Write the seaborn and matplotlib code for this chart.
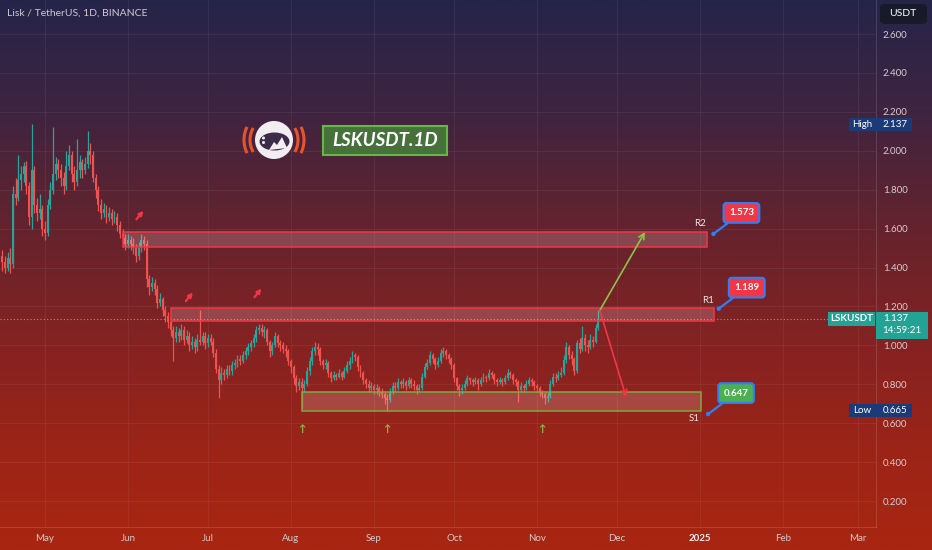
import matplotlib
matplotlib.use("Agg")
import matplotlib.pyplot as plt
import numpy as np
import pandas as pd
import seaborn as sns
from matplotlib.colors import LinearSegmentedColormap
from matplotlib.patches import Rectangle, FancyBboxPatch, Circle, Arc, Polygon, Ellipse
from matplotlib.transforms import blended_transform_factory

# ---- data (LSK/USDT daily) ----
start_date = "2024-04-15"
first_open = 1.46
closes = [
    1.43, 1.40, 1.45, 1.42, 1.78, 1.76, 1.85, 1.88, 1.92, 1.82,
    1.66, 1.90, 1.72, 1.68, 1.70, 1.60, 1.58, 1.72, 1.80, 1.88,
    1.93, 1.90, 1.86, 1.82, 1.92, 1.98, 1.88, 1.84, 1.90, 1.94,
    1.90, 1.93, 2.00, 1.98, 1.86, 1.80, 1.72, 1.68, 1.70, 1.66,
    1.68, 1.65, 1.66, 1.62, 1.57, 1.55, 1.52, 1.54, 1.52, 1.50,
    1.46, 1.50, 1.54, 1.52, 1.34, 1.30, 1.32, 1.29, 1.22, 1.24,
    1.18, 1.15, 1.12, 1.08, 1.04, 1.07, 1.05, 1.08, 1.03, 1.05,
    1.00, 1.02, 0.99, 1.03, 1.02, 1.05, 1.01, 1.04, 1.02, 0.96,
    0.88, 0.82, 0.86, 0.85, 0.88, 0.87, 0.90, 0.91, 0.93, 0.92,
    0.95, 0.97, 0.99, 1.01, 1.04, 1.08, 1.09, 1.07, 1.08, 1.02,
    0.97, 1.00, 1.05, 1.01, 1.00, 0.98, 0.97, 0.92, 0.89, 0.83,
    0.79, 0.81, 0.78, 0.80, 0.87, 0.92, 0.97, 0.99, 0.98, 0.92,
    0.90, 0.91, 0.86, 0.83, 0.85, 0.84, 0.86, 0.84, 0.87, 0.90,
    0.92, 0.95, 0.94, 0.89, 0.86, 0.82, 0.80, 0.78, 0.79, 0.77,
    0.78, 0.76, 0.75, 0.73, 0.72, 0.76, 0.79, 0.78, 0.81, 0.80,
    0.81, 0.79, 0.82, 0.80, 0.79, 0.77, 0.78, 0.84, 0.89, 0.91,
    0.95, 0.93, 0.90, 0.92, 0.96, 0.97, 0.95, 0.93, 0.90, 0.83,
    0.79, 0.77, 0.78, 0.80, 0.83, 0.82, 0.81, 0.82, 0.80, 0.82,
    0.84, 0.83, 0.86, 0.85, 0.82, 0.81, 0.82, 0.81, 0.83, 0.86,
    0.85, 0.82, 0.81, 0.77, 0.79, 0.78, 0.80, 0.82, 0.81, 0.79,
    0.78, 0.755, 0.75, 0.73, 0.74, 0.80, 0.84, 0.83, 0.85, 0.86,
    0.925, 0.99, 0.95, 0.93, 0.87, 1.01, 0.98, 1.04, 1.00, 0.99,
    1.03, 1.02, 1.09, 1.137,
]
highs = [
    1.49, 1.46, 1.48, 1.50, 1.82, 1.86, 1.98, 1.92, 1.94, 1.95,
    1.84, 2.137, 1.92, 1.76, 1.78, 1.72, 1.64, 1.75, 1.84, 2.12,
    1.97, 1.96, 1.93, 1.89, 2.00, 2.03, 2.00, 1.92, 2.06, 1.98,
    1.96, 1.97, 2.10, 2.04, 2.00, 1.88, 1.82, 1.75, 1.73, 1.72,
    1.71, 1.70, 1.69, 1.68, 1.64, 1.60, 1.57, 1.57, 1.56, 1.55,
    1.52, 1.53, 1.57, 1.56, 1.54, 1.36, 1.35, 1.34, 1.31, 1.27,
    1.25, 1.20, 1.17, 1.14, 1.10, 1.10, 1.09, 1.11, 1.10, 1.08,
    1.07, 1.05, 1.04, 1.06, 1.18, 1.07, 1.07, 1.06, 1.06, 1.04,
    0.98, 0.90, 0.89, 0.88, 0.90, 0.90, 0.92, 0.93, 0.95, 0.95,
    0.97, 0.99, 1.01, 1.03, 1.06, 1.10, 1.11, 1.11, 1.10, 1.09,
    1.03, 1.02, 1.07, 1.06, 1.03, 1.02, 1.00, 0.98, 0.93, 0.90,
    0.85, 0.83, 0.83, 0.82, 0.89, 0.94, 0.99, 1.02, 1.01, 0.99,
    0.93, 0.93, 0.92, 0.87, 0.87, 0.86, 0.88, 0.87, 0.89, 0.92,
    0.94, 0.97, 0.96, 0.95, 0.90, 0.87, 0.83, 0.82, 0.81, 0.80,
    0.80, 0.79, 0.78, 0.76, 0.75, 0.78, 0.81, 0.81, 0.83, 0.82,
    0.83, 0.82, 0.84, 0.83, 0.82, 0.80, 0.80, 0.86, 0.91, 0.93,
    0.97, 0.96, 0.94, 0.94, 0.98, 0.99, 0.98, 0.96, 0.94, 0.91,
    0.84, 0.80, 0.80, 0.82, 0.85, 0.84, 0.83, 0.84, 0.83, 0.84,
    0.86, 0.85, 0.88, 0.87, 0.86, 0.83, 0.84, 0.83, 0.85, 0.88,
    0.87, 0.86, 0.83, 0.82, 0.81, 0.80, 0.82, 0.84, 0.83, 0.82,
    0.80, 0.79, 0.77, 0.76, 0.76, 0.82, 0.86, 0.86, 0.87, 0.89,
    0.95, 1.02, 1.00, 0.97, 0.94, 1.03, 1.04, 1.10, 1.06, 1.03,
    1.06, 1.05, 1.11, 1.18,
]
lows = [
    1.38, 1.37, 1.38, 1.37, 1.40, 1.72, 1.74, 1.80, 1.84, 1.78,
    1.62, 1.60, 1.68, 1.64, 1.65, 1.56, 1.54, 1.56, 1.70, 1.78,
    1.85, 1.86, 1.82, 1.78, 1.80, 1.90, 1.84, 1.80, 1.82, 1.86,
    1.86, 1.88, 1.91, 1.93, 1.84, 1.76, 1.69, 1.65, 1.66, 1.63,
    1.64, 1.62, 1.63, 1.59, 1.55, 1.52, 1.49, 1.50, 1.49, 1.47,
    1.43, 1.44, 1.48, 1.49, 1.30, 1.26, 1.28, 1.26, 1.19, 1.20,
    1.15, 1.12, 1.09, 1.05, 0.92, 1.02, 1.02, 1.03, 1.00, 1.01,
    0.97, 0.98, 0.96, 0.97, 1.00, 1.00, 0.98, 0.99, 1.00, 0.94,
    0.86, 0.73, 0.80, 0.82, 0.83, 0.85, 0.85, 0.88, 0.89, 0.90,
    0.91, 0.93, 0.95, 0.97, 0.99, 1.02, 1.06, 1.05, 1.04, 1.00,
    0.94, 0.95, 0.99, 0.99, 0.97, 0.96, 0.94, 0.90, 0.86, 0.80,
    0.76, 0.77, 0.68, 0.76, 0.79, 0.85, 0.90, 0.95, 0.95, 0.90,
    0.88, 0.88, 0.84, 0.81, 0.82, 0.82, 0.83, 0.82, 0.83, 0.86,
    0.88, 0.91, 0.92, 0.87, 0.84, 0.80, 0.78, 0.76, 0.76, 0.75,
    0.75, 0.74, 0.73, 0.70, 0.665, 0.71, 0.75, 0.76, 0.77, 0.78,
    0.78, 0.77, 0.78, 0.78, 0.77, 0.75, 0.76, 0.77, 0.83, 0.88,
    0.90, 0.91, 0.88, 0.89, 0.91, 0.94, 0.93, 0.91, 0.88, 0.81,
    0.77, 0.74, 0.75, 0.77, 0.79, 0.80, 0.79, 0.80, 0.77, 0.79,
    0.81, 0.81, 0.82, 0.83, 0.80, 0.79, 0.80, 0.79, 0.80, 0.82,
    0.83, 0.80, 0.79, 0.71, 0.76, 0.76, 0.77, 0.79, 0.79, 0.77,
    0.76, 0.74, 0.73, 0.70, 0.71, 0.73, 0.79, 0.81, 0.82, 0.84,
    0.85, 0.91, 0.93, 0.90, 0.85, 0.86, 0.96, 0.97, 0.97, 0.96,
    0.98, 0.99, 1.01, 1.08,
]

price_ticks = [0.2, 0.4, 0.6, 0.8, 1.0, 1.2, 1.4, 1.6, 1.8, 2.0, 2.2, 2.4, 2.6]
month_starts = ["2024-05-01", "2024-06-01", "2024-07-01", "2024-08-01", "2024-09-01",
                "2024-10-01", "2024-11-01", "2024-12-01", "2025-01-01", "2025-02-01",
                "2025-03-01"]
month_labels = ["May", "Jun", "Jul", "Aug", "Sep", "Oct", "Nov", "Dec", "2025", "Feb", "Mar"]

zone_names = ["R2", "R1", "S1"]
zone_low = [1.506, 1.125, 0.663]
zone_high = [1.583, 1.190, 0.758]
zone_start = ["2024-05-30", "2024-06-17", "2024-08-05"]
zone_end = ["2025-01-03 14:00", "2025-01-06 05:00", "2025-01-01 07:00"]
target_values = [1.573, 1.189, 0.647]
target_dates = ["2025-01-06", "2025-01-08", "2025-01-04"]

reversal_dates = ["2024-06-05 12:00", "2024-06-24", "2024-07-19 16:00"]
reversal_prices = [1.67, 1.25, 1.27]
bounce_dates = ["2024-08-05", "2024-09-06", "2024-11-03"]
bounce_price = 0.57

last_price = 1.137
high_price = 2.137
low_price = 0.665
countdown = "14:59:21"
move_start = ("2024-11-24 12:00", 1.18)
up_target = ("2024-12-11 10:00", 1.583)
down_target = ("2024-12-04 08:00", 0.735)

# ---- frame ----
W, H = 932, 550
Y0, Y1 = 0.0668, 2.775
base = pd.Timestamp(start_date)


def day(s):
    return (pd.Timestamp(s) - base) / pd.Timedelta(days=1)


df = pd.DataFrame({
    "x": np.arange(len(closes)),
    "close": closes,
    "high": highs,
    "low": lows,
})
df["open"] = [first_open] + closes[:-1]
df["up"] = df["close"] >= df["open"]

sns.set_theme(style="dark")
plt.rcParams["font.family"] = ["Lato", "DejaVu Sans"]

fig = plt.figure(figsize=(W / 100, H / 100), dpi=100)

# gradient background (navy -> deep red)
bg = fig.add_axes([0, 0, 1, 1], zorder=-10)
cmap = LinearSegmentedColormap.from_list(
    "tv", [(0.0, "#252549"), (0.2, "#3e2440"), (0.4, "#62232f"),
           (0.6, "#812224"), (0.8, "#9a2418"), (1.0, "#a92611")])
bg.imshow(np.linspace(0, 1, 256).reshape(-1, 1), aspect="auto", cmap=cmap,
          extent=[0, 1, 0, 1])
bg.axis("off")

ax = fig.add_axes([0, 23 / H, 876 / W, 527 / H])
ax.set_facecolor("none")
ax.set_xlim(-0.82, 326.8)
ax.set_ylim(Y0, Y1)
PPU = 527 / (Y1 - Y0)

# grid
for p in price_ticks:
    ax.axhline(p, color="white", alpha=0.06, lw=0.8, zorder=0)
month_x = [day(m) for m in month_starts]
for mx in month_x:
    ax.axvline(mx, color="white", alpha=0.06, lw=0.8, zorder=0)

# candles
col = np.where(df["up"], "#26a69a", "#ef5350")
ax.vlines(df["x"], df["low"], df["high"], colors=col, lw=0.9, zorder=3)
body_lo = np.minimum(df["open"], df["close"])
body_h = np.maximum(np.abs(df["close"] - df["open"]), 0.005)
ax.bar(df["x"], body_h, bottom=body_lo, width=0.72, color=col, lw=0, zorder=4)

# last price dotted line
ax.axhline(last_price, color="#d8b0b0", lw=0.8, ls=(0, (1, 2)), alpha=0.7, zorder=2)

# zones
zone_edge = ["#f23645", "#f23645", "#7fa83e"]
for name, lo, hi, s, e, ec in zip(zone_names, zone_low, zone_high, zone_start, zone_end, zone_edge):
    x0, x1 = day(s), day(e)
    ax.add_patch(Rectangle((x0, lo), x1 - x0, hi - lo, fc=(1, 0.85, 0.85, 0.2),
                           ec=ec, lw=1.1, zorder=5))

# zone labels
label_pos = {"R2": ("2025-01-01", 1.629), "R1": ("2025-01-04", 1.233), "S1": ("2024-12-30", 0.622)}
for name in zone_names:
    d, p = label_pos[name]
    ax.text(day(d), p, name, color="#eee4e4", fontsize=7, ha="center", va="center", zorder=7)

# projected moves
for tgt, c in [(up_target, "#8bc34a"), (down_target, "#f23645")]:
    ax.annotate("", xy=(day(tgt[0]), tgt[1]), xytext=(day(move_start[0]), move_start[1]),
                arrowprops=dict(arrowstyle="->", color=c, lw=1.2, mutation_scale=10,
                                shrinkA=0, shrinkB=0), zorder=7)

# target callouts
tx = [day(d) for d in target_dates]
sns.scatterplot(x=tx, y=target_values, color="#2f7ff5", s=10, edgecolor="none",
                ax=ax, zorder=8, legend=False)
call_fc = ["#f23645", "#f23645", "#4caf50"]
for x, v, fc in zip(tx, target_values, call_fc):
    ax.annotate(f"{v:.3f}", xy=(x, v), xytext=(28, 21), textcoords="offset pixels",
                ha="center", va="center", color="white", fontsize=7, fontweight="bold",
                bbox=dict(boxstyle="round,pad=0.55,rounding_size=0.3", fc=fc, ec="#2f7ff5", lw=1.5),
                arrowprops=dict(arrowstyle="-", color="#2f7ff5", lw=1.6, shrinkA=0, shrinkB=0),
                zorder=9)

# reversal marks (red) and bounce marks (green)
for d, p in zip(reversal_dates, reversal_prices):
    x = day(d)
    ax.annotate("", xy=(x + 1.3, p + 0.022), xytext=(x - 1.3, p - 0.022),
                arrowprops=dict(arrowstyle="-|>", color="#f23645", lw=1.6, mutation_scale=6,
                                shrinkA=0, shrinkB=0), zorder=6)
for d in bounce_dates:
    ax.text(day(d), bounce_price, "↑", color="#8bc34a", fontsize=7, ha="center", va="center",
            fontweight="bold", zorder=6)

# axes styling
ax.set_xlabel("")
ax.set_ylabel("")
for side in ["top", "left"]:
    ax.spines[side].set_visible(False)
for side in ["right", "bottom"]:
    ax.spines[side].set_color((1, 1, 1, 0.13))
    ax.spines[side].set_linewidth(0.8)
ax.yaxis.tick_right()
ax.set_yticks(price_ticks)
ax.set_yticklabels([f"{p:.3f}" for p in price_ticks])
ax.tick_params(axis="y", length=0, pad=5, labelsize=7, labelcolor="#d6cbd0")
ax.set_xticks(month_x)
ax.set_xticklabels(month_labels)
ax.tick_params(axis="x", length=0, pad=5, labelsize=7, labelcolor="#d6c8c8")
for lbl in ax.get_xticklabels():
    if lbl.get_text() == "2025":
        lbl.set_fontweight("bold")
        lbl.set_color("#f2eaea")
ax.grid(False)

# price-scale tags
tag_tr = blended_transform_factory(fig.transFigure, ax.transData)


def tag(x0, x1, yc, h_px, fc):
    h = h_px / PPU
    ax.add_patch(Rectangle((x0 / W, yc - h / 2), (x1 - x0) / W, h, transform=tag_tr,
                           fc=fc, ec="none", clip_on=False, zorder=10))


def tag_text(xc, yc, s, **kw):
    ax.text(xc / W, yc, s, transform=tag_tr, ha="center", va="center", color="white",
            fontsize=7, clip_on=False, zorder=11, **kw)


tag(849, 912, high_price, 13, "#1b3a78")
tag_text(862, high_price, "High")
tag_text(895, high_price, f"{high_price:.3f}")

tag(849, 912, low_price, 13, "#1b3a78")
tag_text(862, low_price, "Low")
tag_text(895, low_price, f"{low_price:.3f}")

lsk_top = last_price + 7 / PPU
tag(828, 875, last_price, 14, "#22a396")
tag_text(851.5, last_price, "LSKUSDT", fontweight="bold")
tag(876, 928, lsk_top - 13.5 / PPU, 27, "#22a396")
tag_text(896, last_price, f"{last_price:.3f}")
tag_text(902, last_price - 12 / PPU, countdown)

# currency box
fig.patches.append(FancyBboxPatch((880 / W, 1 - 24 / H), 47 / W, 20 / H,
                                  boxstyle="round,pad=0,rounding_size=0.006",
                                  transform=fig.transFigure, fc="#181a2a", ec="none", zorder=5))
fig.text(903 / W, 1 - 14 / H, "USDT", color="white", fontsize=7.5, ha="center", va="center",
         zorder=6)

# header
fig.text(7 / W, 1 - 13 / H, "Lisk / TetherUS, 1D, BINANCE", color="#cfc8d2", fontsize=7.5,
         ha="left", va="center")

# badge
fig.patches.append(Rectangle((323 / W, 1 - 155 / H), 124 / W, 29 / H, transform=fig.transFigure,
                             fc="#46713a", ec="#63b846", lw=1.5, zorder=5))
fig.text(385 / W, 1 - 141 / H, "LSKUSDT.1D", color="white", fontsize=13.5,
         fontweight="bold", fontstyle="italic", ha="center", va="center", zorder=6)

# astronaut logo (pixel units, centred at 274,140)
lg = fig.add_axes([236 / W, 1 - 178 / H, 76 / W, 76 / H])
lg.set_xlim(-38, 38)
lg.set_ylim(-38, 38)
lg.axis("off")
lg.patch.set_alpha(0)
orange = "#e8532b"
for r, t in [(24, 30), (30, 26)]:
    lg.add_patch(Arc((0, 0), 2 * r, 2 * r, theta1=180 - t, theta2=180 + t, color=orange, lw=2.2))
    lg.add_patch(Arc((0, 0), 2 * r, 2 * r, theta1=-t, theta2=t, color=orange, lw=2.2))
lg.add_patch(Circle((0, 0), 19, fc="#f1edf1", ec="none"))
lg.add_patch(Ellipse((0.5, -1.5), 30, 18, fc="#3b2c4a", ec="none"))
lg.add_patch(Polygon([(-5, -10), (0, -2), (3, -5), (8, 3), (13, -8)], closed=True,
                     fc="#f1edf1", ec="none"))
lg.add_patch(Circle((-10.5, 2), 1.5, fc="#f1edf1", ec="none"))
lg.add_patch(Circle((-10.5, -2.5), 1.5, fc="#f1edf1", ec="none"))

fig.savefig("out.png", dpi=100)
